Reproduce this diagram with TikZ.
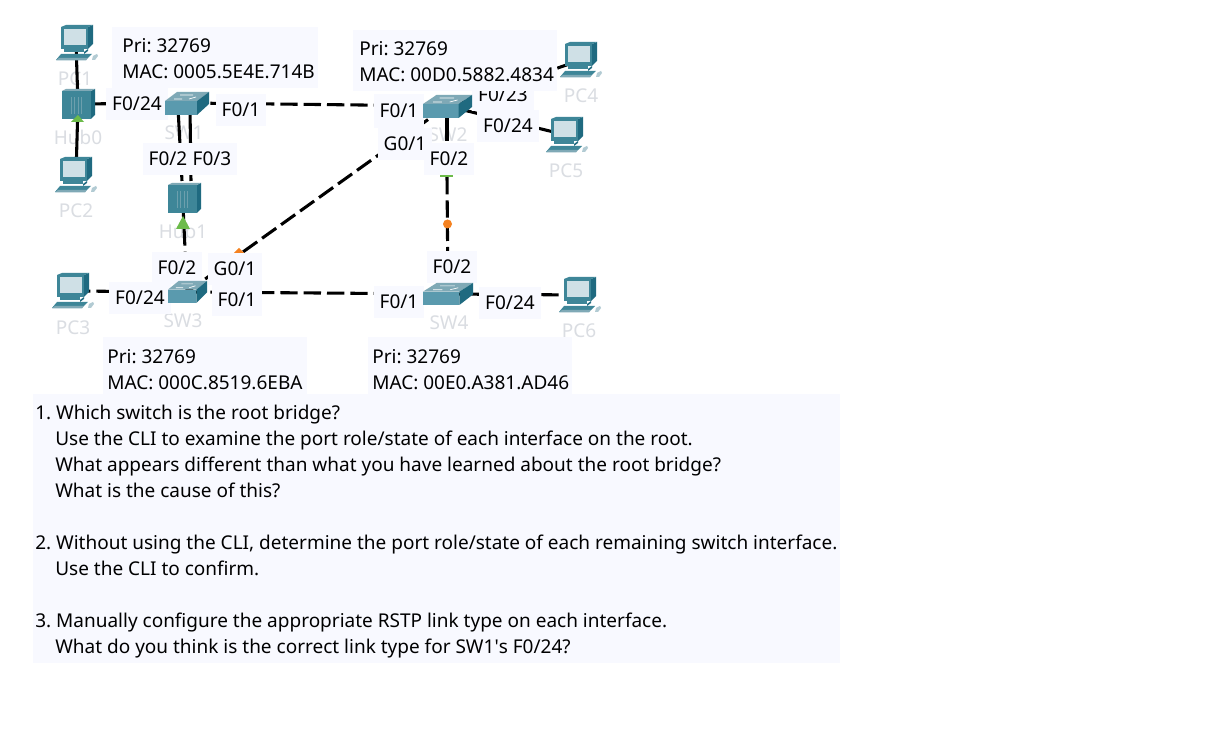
\documentclass[tikz,border=0pt]{standalone}
\usepackage{fontspec}
\setmainfont{Noto Sans}
\newfontfamily\plainfont{Noto Sans}
\frenchspacing
\definecolor{boxbg}{HTML}{F8F9FF}
\definecolor{faded}{HTML}{DADDE2}
\definecolor{tealA}{HTML}{3E8698}
\definecolor{tealB}{HTML}{1F6A80}
\definecolor{tealC}{HTML}{7FA9B6}
\definecolor{tealD}{HTML}{5A9AAE}
\definecolor{screen}{HTML}{CFE0E6}
\definecolor{linkgreen}{HTML}{6CBB4A}
\definecolor{linkorange}{HTML}{F58220}
\tikzset{
  x=.75pt,y=-.75pt,
  txt/.style={font=\fontsize{14.25pt}{19.5pt}\selectfont,text=black},
  portlab/.style={txt,fill=boxbg,inner xsep=4.5pt,inner ysep=0pt,minimum height=24pt},
  infobox/.style={txt,align=left,anchor=north west,inner sep=0pt},
  devlab/.style={font=\fontsize{14.25pt}{16pt}\selectfont,text=faded,inner sep=0pt},
  link/.style={draw=black,line width=2.3pt,dash pattern=on 13pt off 4.5pt},
  solidlink/.style={draw=black,line width=2.3pt},
  device/.style={inner sep=0pt,minimum width=#1,minimum height=20pt},
}
% PC icon, top-left corner at (x,y), 42 x 37 px
\newcommand{\pcicon}[1]{\begin{scope}[shift={(#1)}]
  \fill[tealB] (32,2) -- (37,0) -- (37,19) -- (32,24) -- cycle;
  \fill[tealA] (5,2) -- (32,2) -- (37,0) -- (10,0) -- cycle;
  \fill[tealA] (5,2) rectangle (32,24);
  \fill[screen] (8,4.5) rectangle (29.5,20.5);
  \fill[tealA] (8,24) rectangle (28,27);
  \fill[tealB] (28,27) -- (32,24) -- (32,26) -- (28,29) -- cycle;
  \fill[tealA] (5,29) -- (33,29) -- (36,29) -- (32,33) -- (0,35) -- cycle;
  \fill[tealC] (3,33) -- (32,33) -- (30,35.5) -- (0,35.5) -- cycle;
  \fill[tealC!60] (37,31) -- (41,29) -- (42,31) -- (39,35) -- (36,35) -- cycle;
\end{scope}}
% Switch icon, top-left corner at (x,y); #2 width, #3 height
\newcommand{\swicon}[3]{\begin{scope}[shift={(#1)},x=#2*.75pt/44,y=-#3*.75pt/23]
  \fill[tealC] (0,9) -- (12,0) -- (44,0) -- (32,9) -- cycle;
  \fill[tealD] (0,9) rectangle (32,23);
  \fill[tealB] (32,9) -- (44,0) -- (44,12) -- (32,23) -- cycle;
  \draw[white,line width=.5pt] (9,7) -- (17,7) (19,3) -- (28,3) (15,3) -- (20,3) (24,7) -- (31,5);
\end{scope}}
% Hub icon, top-left corner at (x,y), 33 x 30 px
\newcommand{\hubicon}[1]{\begin{scope}[shift={(#1)}]
  \fill[tealB] (29,2) -- (33,0) -- (33,26) -- (29,30) -- cycle;
  \fill[tealC] (0,2) -- (4,0) -- (33,0) -- (29,2) -- cycle;
  \fill[tealA] (0,2) rectangle (29,30);
  \foreach \xx in {9,12.5,16,19.5}{\draw[tealC!70!tealA,line width=.6pt] (\xx,8) -- (\xx,25);}
\end{scope}}
\begin{document}
\begin{tikzpicture}
\useasboundingbox (0,0) rectangle (1218,730);
\fill[white] (0,0) rectangle (1218,730);

% faded device names
\node[devlab] (lpc1) at (75,79) {PC1};
\node[devlab] (lhub0) at (78,137) {Hub0};
\node[devlab] (lsw1) at (184,133) {SW1};
\node[devlab] (lpc2) at (76,211) {PC2};
\node[devlab] (lhub1) at (183,231) {Hub1};
\node[devlab] (lpc3) at (73,328) {PC3};
\node[devlab] (lsw3) at (183,321) {SW3};
\node[devlab] (lpc4) at (581,96) {PC4};
\node[devlab] (lpc5) at (566,171) {PC5};
\node[devlab] (lsw2) at (448,135) {SW2};
\node[devlab] (lsw4) at (449,323) {SW4};
\node[devlab] (lpc6) at (579,331) {PC6};

% device anchors
\node[device=31.5pt] (pc1) at (76,43) {};
\node[device=31.5pt] (pc2) at (76,175) {};
\node[device=31.5pt] (pc3) at (73,291) {};
\node[device=31.5pt] (pc4) at (581,60) {};
\node[device=31.5pt] (pc5) at (566,135) {};
\node[device=31.5pt] (pc6) at (580,295) {};
\node[device=24pt] (hub0) at (78,104) {};
\node[device=24pt] (hub1) at (184,198) {};
\node[device=32pt,minimum height=17pt] (sw1) at (187,103) {};
\node[device=36pt,minimum height=17pt] (sw2) at (447,106) {};
\node[device=29pt,minimum height=16pt] (sw3) at (187,292) {};
\node[device=37pt,minimum height=16pt] (sw4) at (448,294) {};
\coordinate (sw1a) at (178,108);
\coordinate (sw1b) at (190,108);
\coordinate (hub1a) at (182,181);
\coordinate (hub1b) at (191,181);
\coordinate (hubtop) at (183,205);
\coordinate (sw2down) at (447,100);
\coordinate (sw2gap) at (447,141);
\coordinate (sw4top) at (447,177);

% connectors
\draw[solidlink] (pc1.center) -- (hub0.center);
\draw[solidlink] (pc2.center) -- (hub0.center);
\draw[solidlink] (hub0.center) -- (sw1.center);
\draw[link] (sw1.center) -- (sw2.center);
\draw[solidlink] (sw1a) -- (hub1a);
\draw[solidlink] (sw1b) -- (hub1b);
\draw[link] (hubtop) -- (sw3.center);
\draw[link] (sw2.center) -- (sw3.center);
\draw[solidlink] (sw2down) -- (sw2gap);
\draw[link] (sw4top) -- (sw4.center);
\draw[link] (sw3.center) -- (sw4.center);
\draw[link] (pc3.center) -- (sw3.center);
\draw[link] (sw4.center) -- (pc6.center);
\draw[solidlink] (sw2.center) -- (pc5.center);
\draw[link] (sw2.center) -- (pc4.center);

% status markers
\fill[linkorange] (239,248) -- (244,253) -- (234,253) -- cycle;
\fill[linkorange] (110,287) rectangle (113,295);
\fill[linkgreen] (440,175) rectangle (453,177);
\fill[linkorange] (447.5,224) circle[radius=4.5];

% port labels
\node[portlab] (p1) at (137,104) {F0/24};
\node[portlab] (p2) at (241,110) {F0/1};
\node[portlab] (p3) at (168,159) {F0/2};
\node[portlab] (p4) at (212,159) {F0/3};
\node[portlab,minimum height=26pt] (p5) at (399,111) {F0/1};
\node[portlab] (p6) at (405,144) {G0/1};
\node[portlab] (p7) at (449,159) {F0/2};
\node[portlab] (p8) at (503,95) {F0/23};
\node[portlab] (p9) at (508,126) {F0/24};
\node[portlab] (p10) at (177,268) {F0/2};
\node[portlab] (p11) at (235,269) {G0/1};
\node[portlab] (p12) at (140,298) {F0/24};
\node[portlab] (p13) at (237,300) {F0/1};
\node[portlab] (p14) at (399,302) {F0/1};
\node[portlab] (p15) at (452,267) {F0/2};
\node[portlab] (p16) at (510,303) {F0/24};

% icons
\pcicon{56,25}
\pcicon{55,157}
\pcicon{52,273}
\pcicon{560,42}
\pcicon{546,117}
\pcicon{559,277}
\hubicon{62,89}
\hubicon{168,183}
\swicon{165,92}{44}{23}
\swicon{423,95}{49}{23}
\swicon{168,281}{39}{22}
\swicon{423,283}{50}{22}
\fill[linkgreen] (78,115) -- (84,122) -- (71,122) -- cycle;
\fill[linkgreen] (183,216) -- (190,229) -- (176,229) -- cycle;

% info boxes
\fill[boxbg] (112,27) rectangle (318,88);
\fill[boxbg] (353,30) rectangle (557,91);
\fill[boxbg] (103,337) rectangle (307,397);
\fill[boxbg] (368,337) rectangle (572,397);
\node[infobox] (i1) at (122,38) {Pri: 32769\\MAC: 0005.5E4E.714B};
\node[infobox] (i2) at (359,41) {Pri: 32769\\MAC: 00D0.5882.4834};
\node[infobox] (i3) at (107,349) {Pri: 32769\\MAC: 000C.8519.6EBA};
\node[infobox] (i4) at (372,349) {Pri: 32769\\MAC: 00E0.A381.AD46};

% questions
\fill[boxbg] (33,394) rectangle (840,663);
\node[infobox] (q) at (35,405) {%
1. Which switch is the root bridge?\\
\hspace*{15pt}Use the CLI to examine the port role/state of each interface on the root.\\
\hspace*{15pt}What appears different than what you have learned about the root bridge?\\
\hspace*{15pt}What is the cause of this?\\
\mbox{}\\
2. Without using the CLI, determine the port role/state of each remaining switch interface.\\
\hspace*{15pt}Use the CLI to confirm.\\
\mbox{}\\
3. Manually configure the appropriate RSTP link type on each interface.\\
\hspace*{15pt}What do you think is the correct link type for SW1{\plainfont'}s F0/24?};
\end{tikzpicture}
\end{document}
